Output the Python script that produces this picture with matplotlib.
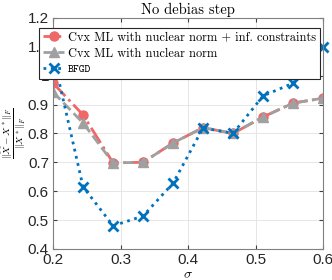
import matplotlib
matplotlib.use('Agg')
import matplotlib.pyplot as plt
import numpy as np

sigma = [0.2, 0.2444, 0.2889, 0.3333, 0.3778, 0.4222, 0.4667, 0.5111, 0.5556, 0.6]
cvx_inf = [0.974, 0.864, 0.698, 0.700, 0.767, 0.820, 0.800, 0.857, 0.905, 0.922]
cvx_nuc = [0.943, 0.836, 0.698, 0.700, 0.767, 0.820, 0.800, 0.857, 0.905, 0.922]
bfgd = [1.07, 0.615, 0.480, 0.514, 0.628, 0.819, 0.800, 0.930, 0.974, 1.099]

xticks = [0.2, 0.3, 0.4, 0.5, 0.6]
yticks = [0.4, 0.5, 0.6, 0.7, 0.8, 0.9, 1.0, 1.1, 1.2]
ytick_labels = ['0.4', '0.5', '0.6', '0.7', '0.8', '0.9', '1', '1.1', '1.2']

plt.rcParams['mathtext.fontset'] = 'cm'

fig = plt.figure(figsize=(3.32, 2.80), dpi=100)
ax = fig.add_axes([0.160, 0.111, 0.813, 0.825])

red = '#EE6868'
gray = '#A0A0A0'
blue = '#0072BD'

ax.plot(sigma, cvx_inf, linestyle='-.', color=red, linewidth=2, marker='o',
        markersize=6.5, markerfacecolor=red, markeredgecolor=red,
        label='Cvx ML with nuclear norm + inf. constraints')
ax.plot(sigma, cvx_nuc, linestyle='--', color=gray, linewidth=2, marker='^',
        markersize=6.5, markerfacecolor=gray, markeredgecolor=gray,
        label='Cvx ML with nuclear norm')
ax.plot(sigma, bfgd, linestyle=':', color=blue, linewidth=2, marker='x',
        markersize=7, markeredgewidth=2, label='BFGD', clip_on=False)

ax.set_xlim(0.2, 0.6)
ax.set_ylim(0.4, 1.2)
ax.set_xticks(xticks)
ax.set_yticks(yticks)
ax.set_yticklabels(ytick_labels)
ax.tick_params(direction='in', length=3, width=0.8, colors='#404040',
               labelsize=11, top=True, right=True, pad=3)
for lab in ax.get_xticklabels() + ax.get_yticklabels():
    lab.set_fontfamily('Liberation Sans')
    lab.set_color('#262626')
for sp in ax.spines.values():
    sp.set_color('#808080')
    sp.set_linewidth(0.8)
ax.grid(True, color='#E6E6E6', linewidth=0.7)
ax.set_axisbelow(True)

ax.set_title('No debias step', fontfamily='cmr10', fontsize=10.5, pad=3)
ax.set_xlabel(r'$\sigma$', fontsize=10, labelpad=0)
ax.set_ylabel(r'$\frac{\|\widehat{X}-X^*\|_F}{\|X^*\|_F}$', fontsize=10, labelpad=0)

leg = ax.legend(loc='upper left', bbox_to_anchor=(-0.052, 0.957), fancybox=False,
                framealpha=1, edgecolor='#262626', handlelength=1.75,
                handletextpad=0.3, borderpad=0.3, labelspacing=0.32,
                borderaxespad=0, prop={'family': 'cmr10', 'size': 8.9})
leg.get_frame().set_linewidth(0.8)
leg.get_texts()[2].set_fontfamily('cmtt10')
leg.get_texts()[2].set_fontsize(8.0)

fig.savefig('out.png', dpi=100)
